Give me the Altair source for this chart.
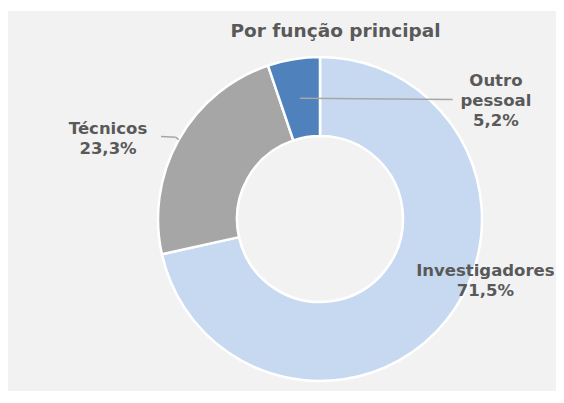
import math
import altair as alt
import pandas as pd

# ---- data ----
title_text = "Por função principal"
categories = ["Investigadores", "Técnicos", "Outro pessoal"]
shares = [71.5, 23.3, 5.2]
labels = ["Investigadores\n71,5%", "Técnicos\n23,3%", "Outro\npessoal\n5,2%"]
colors = ["#c6d9f1", "#a6a6a6", "#4f81bd"]

df = pd.DataFrame({
    "cat": categories,
    "share": shares,
    "order": list(range(len(categories))),
    "label": labels,
})

# ---- geometry / style ----
CX, CY = 312, 208
R_OUT, R_IN = 162, 83
TEXT_COLOR = "#595959"
FONT = "DejaVu Sans"

total = sum(shares)
mid_angles = []
acc = 0.0
for s in shares:
    mid_angles.append((acc + s / 2) / total * 2 * math.pi)
    acc += s


def polar(r, a):
    return CX + r * math.sin(a), CY - r * math.cos(a)


theta_scale = alt.Scale(domain=[0, total])

arcs = alt.Chart(df).mark_arc(
    outerRadius=R_OUT, innerRadius=R_IN, stroke="white", strokeWidth=2.5
).encode(
    theta=alt.Theta("share:Q", stack=True, scale=theta_scale),
    color=alt.Color("cat:N", scale=alt.Scale(domain=categories, range=colors), legend=None),
    order=alt.Order("order:Q"),
    x=alt.value(CX),
    y=alt.value(CY),
)

# label offsets (style) per category
label_offsets = {
    "Investigadores": (21.0, -58.7),
    "Técnicos": (-50.7, 5.6),
    "Outro pessoal": (206, 49.5),
}

label_layers = []
for cat in categories:
    dx, dy = label_offsets[cat]
    lay = alt.Chart(df).transform_window(
        cum="sum(share)", sort=[alt.SortField("order")]
    ).transform_calculate(
        mid="datum.cum - datum.share / 2"
    ).transform_filter(
        alt.datum.cat == cat
    ).mark_text(
        radius=185, dx=dx, dy=dy, lineBreak="\n", lineHeight=20,
        align="center", baseline="alphabetic", font=FONT, fontWeight="bold",
        fontSize=16.5, color=TEXT_COLOR,
    ).encode(
        theta=alt.Theta("mid:Q", stack=None, scale=theta_scale),
        text="label:N",
        x=alt.value(CX),
        y=alt.value(CY),
    )
    label_layers.append(lay)

# leader lines
ox, oy = polar((R_OUT + R_IN) / 2, mid_angles[2])
tx, ty = polar(R_OUT, mid_angles[1])
leader_segments = [
    (ox, oy, 444.7, 88.5),
    (tx, ty, tx - 3, ty - 2.3),
    (tx - 3, ty - 2.3, 153, 125.5),
]
leader_layers = []
for (x1, y1, x2, y2) in leader_segments:
    leader_layers.append(
        alt.Chart(pd.DataFrame({"k": [0]})).mark_rule(
            color="#a6a6a6", strokeWidth=1.5
        ).encode(
            x=alt.value(x1), y=alt.value(y1), x2=alt.value(x2), y2=alt.value(y2)
        )
    )

title = alt.Chart(pd.DataFrame({"t": [title_text]})).mark_text(
    font=FONT, fontWeight="bold", fontSize=18.5, color=TEXT_COLOR,
    align="center", baseline="alphabetic",
).encode(
    text="t:N", x=alt.value(327.5), y=alt.value(26)
)

chart = alt.layer(arcs, *leader_layers, *label_layers, title).properties(
    width=548,
    height=380,
    autosize="none",
    padding={"left": 0, "top": 3, "right": 0, "bottom": 0},
    background="white",
).configure_view(fill="#f2f2f2", strokeWidth=0)

chart.save("out.html", embed_options={"renderer": "svg", "actions": False})
